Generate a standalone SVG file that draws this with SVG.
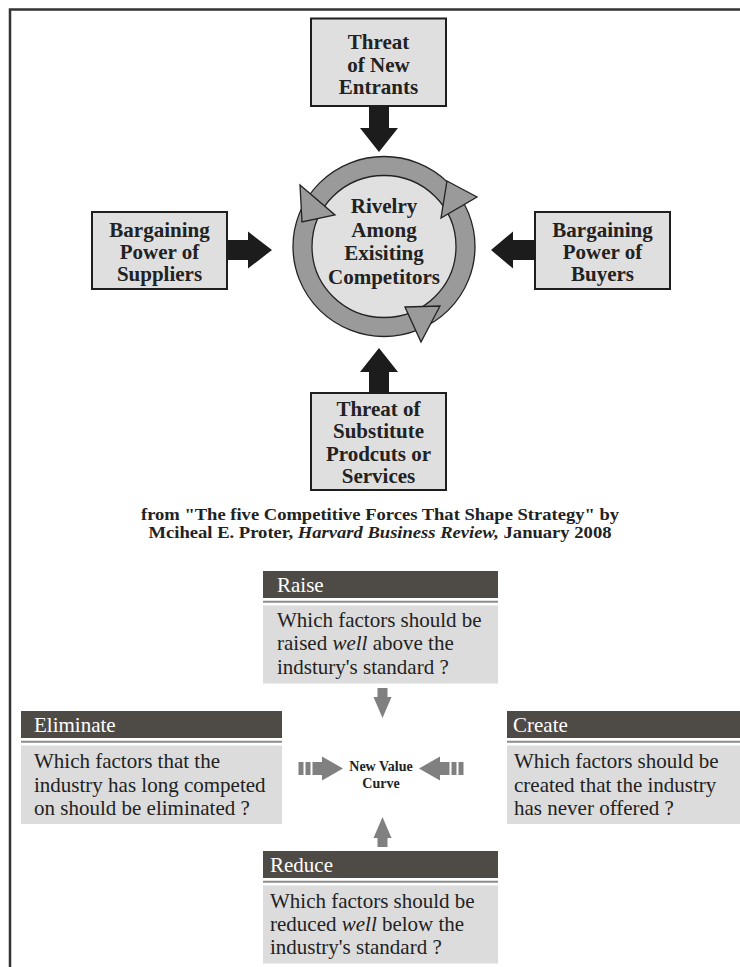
<svg xmlns="http://www.w3.org/2000/svg" width="740" height="967" viewBox="0 0 740 967">
<style>
.frame{fill:none;stroke:#333;stroke-width:2.5}
.box{fill:#dfdfdf;stroke:#1e1e1e;stroke-width:2}
.bt{font-family:"Liberation Serif","Times New Roman",serif;font-weight:bold;font-size:21px;fill:#222;text-anchor:middle}
.blk{fill:#1c1c1c}
.ring{fill:#9a9a9a;stroke:#222;stroke-width:1.3}
.core{fill:#e0e0e0;stroke:#222;stroke-width:1.3}
.tri{fill:#9a9a9a;stroke:#222;stroke-width:1.3}
.cap{font-family:"Liberation Serif","Times New Roman",serif;font-weight:bold;font-size:17px;fill:#222;text-anchor:middle}
.hd{fill:#4e4a46}
.sep{stroke:#8c8c8c;stroke-width:2}
.bd{fill:#dcdcdc}
.ht{font-family:"Liberation Serif","Times New Roman",serif;font-size:21px;fill:#fff}
.tt{font-family:"Liberation Serif","Times New Roman",serif;font-size:21px;fill:#222}
.ga{fill:#808080}
.nv{font-family:"Liberation Serif","Times New Roman",serif;font-weight:bold;font-size:14px;fill:#222;text-anchor:middle}
</style>
<path class="frame" d="M10,967 V9.5 H742"/>

<g id="rivalry">
<ellipse class="ring" cx="384" cy="246.5" rx="91" ry="90"/>
<ellipse class="core" cx="384" cy="246.5" rx="72" ry="71"/>
<polygon class="tri" points="300,185 335,215 302,222"/>
<polygon class="tri" points="447,181 477,197 441,218"/>
<polygon class="tri" points="405,307 440,306 421,342"/>
<text class="bt" x="384" y="213">Rivelry</text>
<text class="bt" x="384" y="236.5">Among</text>
<text class="bt" x="384" y="260">Exisiting</text>
<text class="bt" x="384" y="283.5">Competitors</text>
</g>

<g id="new-entrants">
<rect class="box" x="311" y="18.5" width="135" height="87.5"/>
<text class="bt" x="378.5" y="49">Threat</text>
<text class="bt" x="378.5" y="71.5">of New</text>
<text class="bt" x="378.5" y="94">Entrants</text>
</g>

<g id="suppliers">
<rect class="box" x="92" y="212" width="135" height="77"/>
<text class="bt" x="159.5" y="237">Bargaining</text>
<text class="bt" x="159.5" y="259">Power of</text>
<text class="bt" x="159.5" y="281">Suppliers</text>
</g>

<g id="buyers">
<rect class="box" x="535" y="212" width="135" height="77"/>
<text class="bt" x="602.5" y="237">Bargaining</text>
<text class="bt" x="602.5" y="259">Power of</text>
<text class="bt" x="602.5" y="281">Buyers</text>
</g>

<g id="substitutes">
<rect class="box" x="311" y="393" width="135" height="97"/>
<text class="bt" x="378.5" y="415.5">Threat of</text>
<text class="bt" x="378.5" y="438">Substitute</text>
<text class="bt" x="378.5" y="460.5">Prodcuts or</text>
<text class="bt" x="378.5" y="483">Services</text>
</g>

<g id="connectors">
<polygon class="blk" points="369,106 389,106 389,128 398,128 379,152 360,128 369,128"/>
<polygon class="blk" points="227,240 248,240 248,231.5 272,250 248,268.5 248,260 227,260"/>
<polygon class="blk" points="535,240 513,240 513,231.5 491,250 513,268.5 513,260 535,260"/>
<polygon class="blk" points="369,393 389,393 389,372 398,372 379,348 360,372 369,372"/>
<polygon class="ga" points="377.5,688 387.5,688 387.5,697 391.5,697 382.5,718 373.5,697 377.5,697"/>
<polygon class="ga" points="377.5,847 387.5,847 387.5,838 391.5,838 382.5,817 373.5,838 377.5,838"/>
<rect class="ga" x="298.5" y="762" width="5" height="13"/>
<rect class="ga" x="305.5" y="762" width="5" height="13"/>
<polygon class="ga" points="312.5,762 322,762 322,756.5 343,768.5 322,780.5 322,775 312.5,775"/>
<rect class="ga" x="458.5" y="762" width="5" height="13"/>
<rect class="ga" x="451.5" y="762" width="5" height="13"/>
<polygon class="ga" points="449.5,762 440,762 440,756.5 419,768.5 440,780.5 440,775 449.5,775"/>
</g>

<g id="caption">
<text class="cap" x="380" y="519.5" textLength="478" lengthAdjust="spacingAndGlyphs">from "The five Competitive Forces That Shape Strategy" by</text>
<text class="cap" x="380" y="538" textLength="463" lengthAdjust="spacingAndGlyphs">Mciheal E. Proter, <tspan font-style="italic">Harvard Business Review,</tspan> January 2008</text>
</g>

<g id="new-value-curve">
<text class="nv" x="381" y="771">New Value</text>
<text class="nv" x="381" y="788">Curve</text>
</g>

<g id="raise">
<rect class="hd" x="263" y="571" width="235" height="27"/>
<line class="sep" x1="263" y1="601.7" x2="498" y2="601.7"/>
<rect class="bd" x="263" y="605.5" width="235" height="78"/>
<text class="ht" x="277" y="591.5">Raise</text>
<text class="tt" x="277" y="627">Which factors should be</text>
<text class="tt" x="277" y="650">raised <tspan font-style="italic">well</tspan> above the</text>
<text class="tt" x="277" y="673.5">indstury's standard ?</text>
</g>

<g id="eliminate">
<rect class="hd" x="21" y="711" width="261" height="27"/>
<line class="sep" x1="21" y1="741.7" x2="282" y2="741.7"/>
<rect class="bd" x="21" y="745.5" width="261" height="78.5"/>
<text class="ht" x="34" y="731.5">Eliminate</text>
<text class="tt" x="34" y="768">Which factors that the</text>
<text class="tt" x="34" y="791.5">industry has long competed</text>
<text class="tt" x="34" y="815">on should be eliminated ?</text>
</g>

<g id="create">
<rect class="hd" x="507" y="711" width="261" height="27"/>
<line class="sep" x1="507" y1="741.7" x2="768" y2="741.7"/>
<rect class="bd" x="507" y="745.5" width="261" height="78.5"/>
<text class="ht" x="513" y="731.5">Create</text>
<text class="tt" x="514" y="768">Which factors should be</text>
<text class="tt" x="514" y="791.5">created that the industry</text>
<text class="tt" x="514" y="815">has never offered ?</text>
</g>

<g id="reduce">
<rect class="hd" x="263" y="851" width="235" height="27"/>
<line class="sep" x1="263" y1="881.7" x2="498" y2="881.7"/>
<rect class="bd" x="263" y="885.5" width="235" height="78"/>
<text class="ht" x="270" y="871.5">Reduce</text>
<text class="tt" x="270" y="908">Which factors should be</text>
<text class="tt" x="270" y="931">reduced <tspan font-style="italic">well</tspan> below the</text>
<text class="tt" x="270" y="953.5">industry's standard ?</text>
</g>
</svg>
